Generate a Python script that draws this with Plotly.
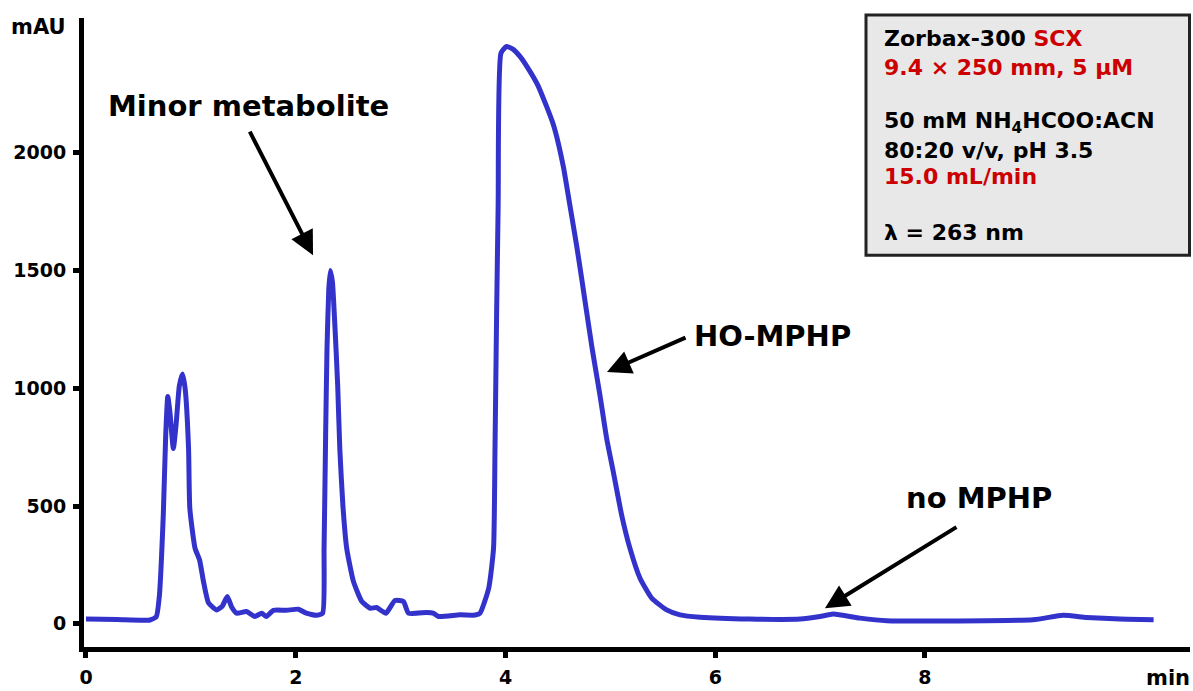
import plotly.graph_objects as go

# Retention time (min) and absorbance (mAU)
time_min = [0.0, 0.3, 0.61, 0.67, 0.70, 0.737, 0.76, 0.78, 0.80, 0.833, 0.86, 0.89, 0.92, 0.945, 0.978,
            0.99, 1.04, 1.083, 1.12, 1.169, 1.248, 1.30, 1.347, 1.39, 1.436, 1.53, 1.61, 1.675, 1.72,
            1.786, 1.91, 2.024, 2.1, 2.197, 2.256, 2.27, 2.285, 2.298, 2.315, 2.33, 2.35, 2.375, 2.40,
            2.42, 2.45, 2.486, 2.55, 2.63, 2.71, 2.77, 2.86, 2.946, 3.027, 3.075, 3.25, 3.31, 3.36,
            3.566, 3.71, 3.757, 3.84, 3.886, 3.90, 3.915, 3.93, 3.957, 4.01, 4.07, 4.138, 4.22, 4.31,
            4.456, 4.551, 4.615, 4.679, 4.727, 4.774, 4.822, 4.853, 4.901, 4.965, 5.028, 5.108, 5.187,
            5.283, 5.394, 5.537, 5.664, 5.855, 6.33, 6.81,
            6.999, 7.126, 7.38, 7.635, 9.03, 9.316, 9.54, 9.86, 10.18]
absorbance = [20, 18, 16, 30, 120, 461, 800, 965, 900, 744, 850, 1010, 1061, 1000, 744,
              490, 320, 271, 180, 88, 59, 75, 116, 70, 45, 52, 31, 45, 31,
              57, 57, 62, 45, 36, 45, 320, 800, 1167, 1420, 1500, 1450, 1250, 1012,
              744, 500, 320, 180, 95, 66, 69, 45, 99, 95, 45, 48, 45, 31,
              38, 37, 45, 151, 320, 744, 1300, 1774, 2423, 2451, 2440, 2409, 2355, 2285,
              2120, 1943, 1774, 1604, 1464, 1323, 1181, 1097, 970, 786, 645, 461, 320,
              193, 109, 59, 38, 28, 20, 20,
              31, 41, 24, 13, 17, 36, 27, 20, 17]

x_ticks = [0, 2, 4, 6, 8]
y_ticks = [0, 500, 1000, 1500, 2000]

FONT = "DejaVu Sans"
RED = "#cc0000"

# plot-area geometry in pixels (used to place paper-referenced decorations)
L, T, W, H = 84, 18, 1106, 631


def px_x(p):
    return (p - L) / W


def px_y(p):
    return (T + H - p) / H


fig = go.Figure()
fig.add_trace(go.Scatter(x=time_min, y=absorbance, mode="lines",
                         line=dict(color="#3333cc", width=5, shape="spline", smoothing=0.5),
                         hoverinfo="skip", showlegend=False))

fig.update_layout(
    width=1193, height=691,
    margin=dict(l=L, r=1193 - L - W, t=T, b=691 - T - H),
    plot_bgcolor="white", paper_bgcolor="white",
    font=dict(family=FONT, size=19, color="black", weight="bold"),
    xaxis=dict(range=[-0.019, 10.527], tickvals=x_ticks, ticktext=[str(v) for v in x_ticks],
               showline=True, linecolor="black", linewidth=5, ticks="outside",
               ticklen=6, tickwidth=5, tickcolor="black", showgrid=False, zeroline=False,
               ticklabelstandoff=3,
               tickfont=dict(family=FONT, size=19, weight="bold")),
    yaxis=dict(range=[-98.6, 2572], tickvals=y_ticks, ticktext=[str(v) for v in y_ticks],
               showline=True, linecolor="black", linewidth=5, ticks="outside",
               ticklen=6, tickwidth=5, tickcolor="black", showgrid=False, zeroline=False,
               ticklabelstandoff=3,
               tickfont=dict(family=FONT, size=19, weight="bold")),
)

# axis unit labels
fig.add_annotation(text="mAU", xref="paper", yref="paper", x=px_x(38.5), y=px_y(27),
                   xanchor="center", yanchor="middle", showarrow=False,
                   font=dict(family=FONT, size=21, weight="bold"))
fig.add_annotation(text="min", xref="paper", yref="paper", x=px_x(1168), y=px_y(680),
                   xanchor="center", yanchor="middle", showarrow=False,
                   font=dict(family=FONT, size=21, weight="bold"))

# peak labels (data coordinates)
labels = [("Minor metabolite", 1.553, 2200), ("HO-MPHP", 6.55, 1220), ("no MPHP", 8.515, 532)]
for txt, lx, ly in labels:
    fig.add_annotation(text=txt, x=lx, y=ly, showarrow=False,
                       font=dict(family=FONT, size=29, weight="bold"))

# arrows (head at data point, tail offset in px)
arrows = [(2.165, 1565, -64, -125), (4.968, 1069, 80, -35), (7.046, 66, 133, -82)]
for hx, hy, ax, ay in arrows:
    fig.add_annotation(text="", x=hx, y=hy, ax=ax, ay=ay, showarrow=True,
                       arrowhead=2, arrowsize=1.2, arrowwidth=4, arrowcolor="black")

# conditions box
fig.add_shape(type="rect", xref="paper", yref="paper", x0=px_x(866), x1=px_x(1189.5),
              y0=px_y(256), y1=px_y(15),
              fillcolor="#e8e8e8", line=dict(color="#222222", width=3))
box_lines = [
    ("Zorbax-300 <span style='color:%s'>SCX</span>" % RED, 39),
    ("<span style='color:%s'>9.4 × 250 mm, 5 µM</span>" % RED, 67.5),
    ("50 mM NH<sub>4</sub>HCOO:ACN", 123),
    ("80:20 v/v, pH 3.5", 151),
    ("<span style='color:%s'>15.0 mL/min</span>" % RED, 177.5),
    ("λ = 263 nm", 233),
]
for txt, yp in box_lines:
    fig.add_annotation(text=txt, xref="paper", yref="paper", x=px_x(881.5), y=px_y(yp),
                       xanchor="left", yanchor="middle", align="left", showarrow=False,
                       font=dict(family=FONT, size=22, weight="bold"))

fig.write_html("out.html")
